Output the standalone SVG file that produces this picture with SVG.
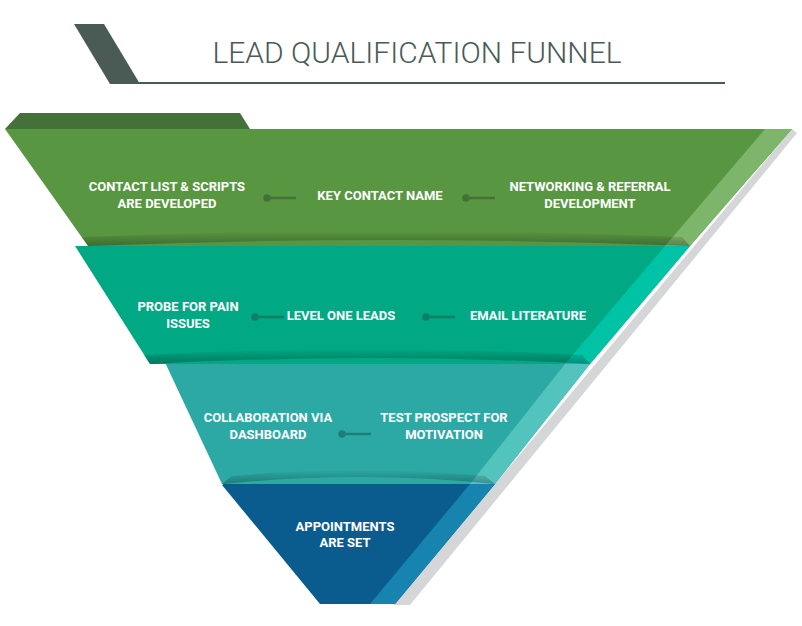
<svg xmlns="http://www.w3.org/2000/svg" width="802" height="626" viewBox="0 0 802 626">
<defs>
<style>
.t{font-family:Roboto,"Liberation Sans",sans-serif;font-weight:bold;font-size:13px;fill:#fff;text-anchor:middle}
.title{font-family:Roboto,"Liberation Sans",sans-serif;font-weight:300;font-size:30px;fill:#4a5a55;text-anchor:middle}
</style>
<linearGradient id="sh" x1="0" y1="0" x2="0" y2="1">
<stop offset="0" stop-color="#000" stop-opacity="0"/>
<stop offset="1" stop-color="#000" stop-opacity="0.28"/>
</linearGradient>
<marker id="ah" markerWidth="8" markerHeight="10" refX="6" refY="5" orient="auto" markerUnits="userSpaceOnUse">
<path d="M1,1 L6,5 L1,9" fill="none" stroke-width="2"/>
</marker>
</defs>
<g id="header">
<polygon points="74,24 104,24 140,84 110,84" fill="#4a5a55"/>
<line x1="135" y1="83" x2="725" y2="83" stroke="#4a5a55" stroke-width="2"/>
<text class="title" x="417" y="63">LEAD QUALIFICATION FUNNEL</text>
</g>
<polygon id="shadow" points="792,129 797,133 410,605 394,605" fill="#d4d6d8"/>
<g id="tier4">
<polygon points="236,476 222,485 320,604 395,604 495,484" fill="#0a5c8f"/>
<polygon points="470,484 495,484 395,604 370,604" fill="#1784b0"/>
<text class="t" x="345" y="531">APPOINTMENTS</text>
<text class="t" x="345" y="547">ARE SET</text>
</g>
<g id="tier3">
<polygon points="162,356 150,364 590,364 495,484 222,484" fill="#2ca9a5"/>
<polygon points="565,364 590,364 495,484 470,484" fill="#52c4bd"/>
<path d="M222,484 Q360,470 495,484 L485,476 Q360,464 232,476 Z" fill="url(#sh)"/>
<text class="t" x="268" y="422">COLLABORATION VIA</text>
<text class="t" x="268" y="439">DASHBOARD</text>
<text class="t" x="444" y="422">TEST PROSPECT FOR</text>
<text class="t" x="444" y="439">MOTIVATION</text>
</g>
<g id="tier2">
<polygon points="75,246 690,246 590,364 150,364" fill="#00a884"/>
<polygon points="665,246 690,246 590,364 565,364" fill="#00c3a5"/>
<path d="M150,364 Q370,352 590,364 L582,355 Q370,343 143,355 Z" fill="url(#sh)"/>
<text class="t" x="188" y="311">PROBE FOR PAIN</text>
<text class="t" x="188" y="328">ISSUES</text>
<text class="t" x="341" y="320">LEVEL ONE LEADS</text>
<text class="t" x="528" y="320">EMAIL LITERATURE</text>
</g>
<g id="tier1">
<polygon points="20,113 240,113 250,129 5,129" fill="#44703a"/>
<polygon points="5,129 792,129 690,246 88,246" fill="#589641"/>
<polygon points="765,129 792,129 690,246 665,246" fill="#7db56a"/>
<path d="M88,246 Q390,234 690,246 L682,237 Q390,225 82,237 Z" fill="url(#sh)"/>
<text class="t" x="167" y="191">CONTACT LIST &amp; SCRIPTS</text>
<text class="t" x="167" y="208">ARE DEVELOPED</text>
<text class="t" x="380" y="200">KEY CONTACT NAME</text>
<text class="t" x="590" y="191">NETWORKING &amp; REFERRAL</text>
<text class="t" x="590" y="208">DEVELOPMENT</text>
</g>
<g id="connectors" stroke-width="2.5" fill="none">
<g stroke="#44703a">
<circle cx="267" cy="198" r="2.5" fill="#44703a"/><line x1="267" y1="198" x2="296" y2="198" marker-end="url(#ah)"/>
<circle cx="466" cy="198" r="2.5" fill="#44703a"/><line x1="466" y1="198" x2="495" y2="198" marker-end="url(#ah)"/>
</g>
<g stroke="#0f7f66">
<circle cx="255" cy="317" r="2.5" fill="#0f7f66"/><line x1="255" y1="317" x2="284" y2="317" marker-end="url(#ah)"/>
<circle cx="426" cy="317" r="2.5" fill="#0f7f66"/><line x1="426" y1="317" x2="455" y2="317" marker-end="url(#ah)"/>
</g>
<g stroke="#1d7f7c">
<circle cx="342" cy="434" r="2.5" fill="#1d7f7c"/><line x1="342" y1="434" x2="371" y2="434" marker-end="url(#ah)"/>
</g>
</g>
</svg>
